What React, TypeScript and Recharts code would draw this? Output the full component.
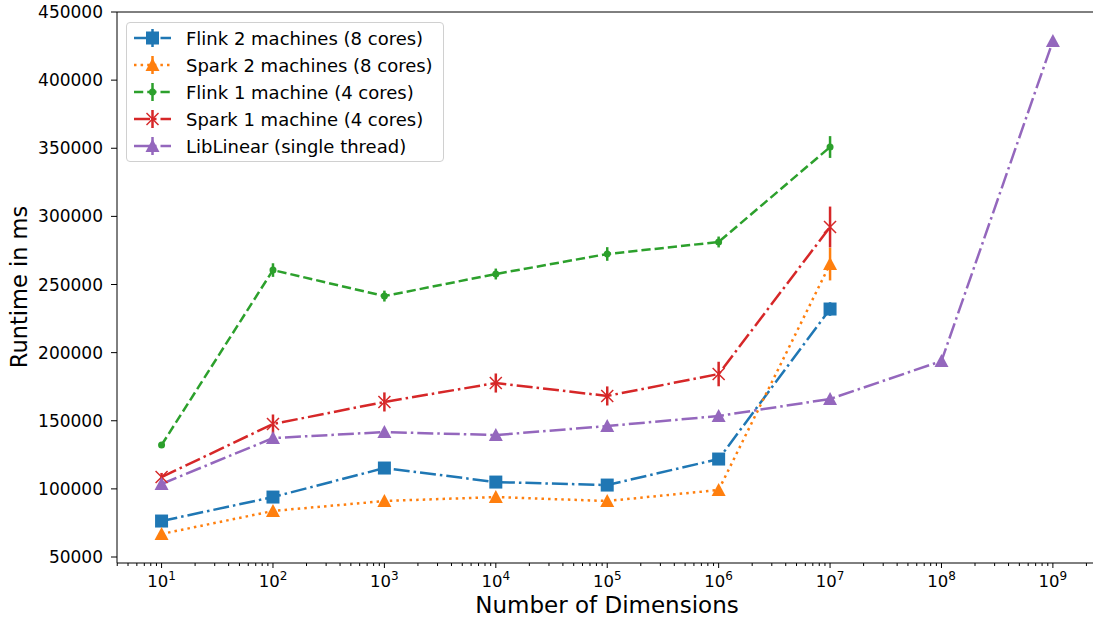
import React from 'react';
import { ErrorBar, Legend, Line, LineChart, ReferenceLine, XAxis, YAxis } from 'recharts';

// x positions (number of dimensions)
const dims = [1e1, 1e2, 1e3, 1e4, 1e5, 1e6, 1e7];
const dimsLib = [1e1, 1e2, 1e3, 1e4, 1e5, 1e6, 1e7, 1e8, 1e9];

// runtimes in ms
const flink2 = [76400, 94000, 115300, 105000, 102800, 121900, 232000];
const flink2Err = [1500, 2000, 2500, 2000, 2000, 3000, 5000];
const spark2 = [66900, 83800, 91100, 94000, 91100, 99200, 265000];
const spark2Err = [1500, 2000, 2000, 2000, 2000, 2500, 12000];
const flink1 = [132200, 260600, 241500, 257700, 272400, 281200, 350900];
const flink1Err = [2000, 5000, 4000, 4000, 5000, 4000, 8000];
const spark1 = [108700, 147600, 163800, 177700, 168200, 184300, 292200];
const spark1Err = [3000, 7000, 7000, 7000, 7000, 9000, 15000];
const libLinear = [103600, 137300, 141700, 139500, 146100, 153500, 166000, 193800, 428700];
const libLinearErr = [1000, 1000, 1000, 1000, 1000, 1000, 1500, 3000, 1000];

const yTicks = [50000, 100000, 150000, 200000, 250000, 300000, 350000, 400000, 450000];
const majorExps = [1, 2, 3, 4, 5, 6, 7, 8, 9];

const FONT = 'DejaVu Sans, sans-serif';

const toSeries = (xs: number[], ys: number[], errs: number[]) =>
  xs.map((x, i) => ({ x, y: ys[i], err: errs[i] }));

// major + minor ticks on the log axis
const xTicks: number[] = [];
for (let e = 0; e <= 9; e++) {
  for (let m = 1; m <= 9; m++) {
    const v = m * Math.pow(10, e);
    if (v >= Math.pow(10, 0.6) && v <= Math.pow(10, 9.36)) xTicks.push(v);
  }
}

type Marker = 'square' | 'triangle' | 'circle' | 'x';

const drawMarker = (kind: Marker, cx: number, cy: number, color: string, key?: string) => {
  if (kind === 'square') {
    return <rect key={key} x={cx - 6.5} y={cy - 6.5} width={13} height={13} fill={color} />;
  }
  if (kind === 'triangle') {
    const s = 7;
    return (
      <polygon key={key} points={`${cx},${cy - s} ${cx - s},${cy + s - 1} ${cx + s},${cy + s - 1}`} fill={color} />
    );
  }
  if (kind === 'circle') {
    return <circle key={key} cx={cx} cy={cy} r={3.5} fill={color} />;
  }
  return (
    <g key={key} stroke={color} strokeWidth={1.5}>
      <line x1={cx - 6} y1={cy - 6} x2={cx + 6} y2={cy + 6} />
      <line x1={cx - 6} y1={cy + 6} x2={cx + 6} y2={cy - 6} />
    </g>
  );
};

const series = [
  { name: 'Flink 2 machines (8 cores)', data: toSeries(dims, flink2, flink2Err), color: '#1f77b4', dash: '16 4 2.5 4', marker: 'square' as Marker },
  { name: 'Spark 2 machines (8 cores)', data: toSeries(dims, spark2, spark2Err), color: '#ff7f0e', dash: '2.5 4.1', marker: 'triangle' as Marker },
  { name: 'Flink 1 machine (4 cores)', data: toSeries(dims, flink1, flink1Err), color: '#2ca02c', dash: '9.25 4', marker: 'circle' as Marker },
  { name: 'Spark 1 machine (4 cores)', data: toSeries(dims, spark1, spark1Err), color: '#d62728', dash: '16 4 2.5 4', marker: 'x' as Marker },
  { name: 'LibLinear (single thread)', data: toSeries(dimsLib, libLinear, libLinearErr), color: '#9467bd', dash: '16 4 2.5 4', marker: 'triangle' as Marker },
];

const XTick = (props: any) => {
  const { x, y, payload } = props;
  const v = payload.value as number;
  const e = Math.round(Math.log10(v));
  const isMajor = Math.abs(v - Math.pow(10, e)) < 1e-6 * v && majorExps.includes(e);
  return (
    <g>
      <line x1={x} y1={y} x2={x} y2={y + (isMajor ? 5 : 3)} stroke="#000" strokeWidth={1} />
      {isMajor && (
        <text x={x} y={y + 24} textAnchor="middle" fontFamily={FONT} fontSize={16.5} fill="#000">
          <tspan>10</tspan>
          <tspan dy={-7} fontSize={12}>{e}</tspan>
        </text>
      )}
    </g>
  );
};

const LegendBox = () => (
  <div
    style={{
      width: 316,
      height: 138,
      border: '1px solid #d0d0d0',
      borderRadius: 4,
      background: 'rgba(255,255,255,0.8)',
    }}
  >
    <svg width={316} height={138}>
      {series.map((s, i) => {
        const cy = 15 + i * 27;
        return (
          <g key={s.name}>
            <line x1={7} y1={cy} x2={44} y2={cy} stroke={s.color} strokeWidth={2.5} strokeDasharray={s.dash} />
            <line x1={25.5} y1={cy - 9} x2={25.5} y2={cy + 9} stroke={s.color} strokeWidth={2.5} />
            {drawMarker(s.marker, 25.5, cy, s.color)}
            <text x={59} y={cy + 6.5} fontFamily={FONT} fontSize={18} fill="#000">
              {s.name}
            </text>
          </g>
        );
      })}
    </svg>
  </div>
);

export default function App() {
  return (
    <div style={{ position: 'absolute', left: 0, top: 0, background: '#fff' }}>
      <LineChart width={1093} height={620} margin={{ top: 12, right: 0, bottom: 0, left: 0 }}>
        <XAxis
          dataKey="x"
          type="number"
          scale="log"
          domain={[Math.pow(10, 0.6), Math.pow(10, 9.36)]}
          allowDataOverflow
          ticks={xTicks}
          interval={0}
          tick={<XTick />}
          tickLine={false}
          tickSize={0}
          tickMargin={0}
          height={57}
          axisLine={{ stroke: '#000', strokeWidth: 1 }}
          label={() => (
            <text x={607} y={613} textAnchor="middle" fontFamily={FONT} fontSize={23} fill="#000">
              Number of Dimensions
            </text>
          )}
        />
        <YAxis
          type="number"
          domain={[45600, 450000]}
          allowDataOverflow
          ticks={yTicks}
          interval={0}
          width={117}
          tickSize={6}
          tickMargin={8}
          tick={{ fontFamily: FONT, fontSize: 17, fill: '#000' }}
          tickLine={{ stroke: '#000' }}
          axisLine={{ stroke: '#000', strokeWidth: 1 }}
          label={() => (
            <text
              x={27}
              y={287}
              transform="rotate(-90 27 287)"
              textAnchor="middle"
              fontFamily={FONT}
              fontSize={22.5}
              fill="#000"
            >
              Runtime in ms
            </text>
          )}
        />
        <ReferenceLine y={450000} stroke="#000" strokeWidth={1} ifOverflow="visible" />
        {series.map((s) => (
          <Line
            key={s.name}
            data={s.data}
            dataKey="y"
            name={s.name}
            stroke={s.color}
            strokeWidth={2.5}
            strokeDasharray={s.dash}
            isAnimationActive={false}
            dot={(p: any) => drawMarker(s.marker, p.cx, p.cy, s.color, `${s.name}-${p.index}`)}
            activeDot={false}
          >
            <ErrorBar dataKey="err" direction="y" width={0} stroke={s.color} strokeWidth={2.5} />
          </Line>
        ))}
        <Legend
          layout="vertical"
          align="center"
          verticalAlign="middle"
          content={() => <LegendBox />}
          wrapperStyle={{ position: 'absolute', left: 126, top: 22, width: 318 }}
        />
      </LineChart>
    </div>
  );
}
